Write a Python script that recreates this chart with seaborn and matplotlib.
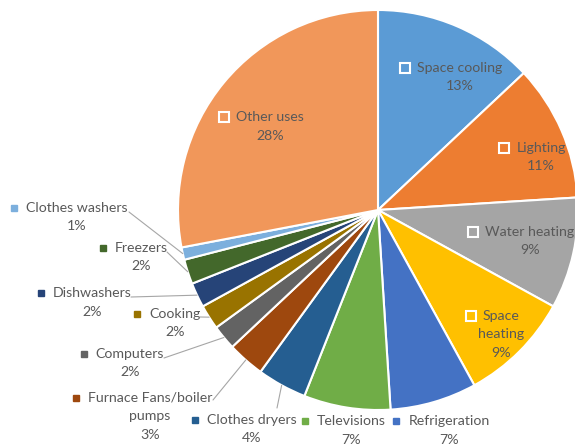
import matplotlib
matplotlib.use("Agg")
import numpy as np
import matplotlib.pyplot as plt
import matplotlib.transforms as mtransforms
from matplotlib.lines import Line2D
import seaborn as sns

# data, clockwise from 12 o'clock
labels = ["Space cooling", "Lighting", "Water heating", "Space\nheating", "Refrigeration",
          "Televisions", "Clothes dryers", "Furnace Fans/boiler\npumps", "Computers",
          "Cooking", "Dishwashers", "Freezers", "Clothes washers", "Other uses"]
shares = [13, 11, 9, 9, 7, 7, 4, 3, 2, 2, 2, 2, 1, 28]
colors = ["#5B9BD5", "#ED7D31", "#A5A5A5", "#FFC000", "#4472C4", "#70AD47", "#255E91",
          "#9E480E", "#636363", "#997300", "#264478", "#43682B", "#7CAFDD", "#F1975A"]
inside = ["Space cooling", "Lighting", "Water heating", "Space\nheating", "Other uses"]

# label layout in image pixels (centre of first text line), leader line starts
label_pos = {
    "Space cooling": (460, 68), "Lighting": (541, 148), "Water heating": (530, 232),
    "Space\nheating": (501, 316), "Refrigeration": (449, 421), "Televisions": (351, 421),
    "Clothes dryers": (252, 420), "Furnace Fans/boiler\npumps": (150, 398),
    "Computers": (130, 354), "Cooking": (175, 314), "Dishwashers": (92, 293),
    "Freezers": (141, 248), "Clothes washers": (77, 208), "Other uses": (270, 117),
}
leader_from = {
    "Clothes washers": (129, 212), "Freezers": (167, 252), "Dishwashers": (131, 297),
    "Cooking": (200, 317), "Computers": (164, 358), "Furnace Fans/boiler\npumps": (213, 400),
    "Clothes dryers": (277, 408),
}

W, H = 575, 446
text_color = "#595959"

sns.set_theme(style="white")
plt.rcParams["font.family"] = ["Lato", "DejaVu Sans"]

fig = plt.figure(figsize=(W / 100, H / 100), dpi=100)
ax = fig.add_axes([(378 - 200) / W, (H - 210 - 200) / H, 400 / W, 400 / H])
wedges, _ = ax.pie(shares, colors=sns.color_palette(colors), startangle=90, counterclock=False,
                   wedgeprops=dict(edgecolor="white", linewidth=1.5))
ax.set_xlim(-1, 1)
ax.set_ylim(-1, 1)

# pixel coords, origin top-left
pix = mtransforms.Affine2D().scale(1 / W, -1 / H).translate(0, 1) + fig.transFigure
to_pix = lambda pt: pix.inverted().transform(ax.transData.transform(pt))

fig.canvas.draw()
renderer = fig.canvas.get_renderer()
line_h = 18.5

for lab, v, c in zip(labels, shares, colors):
    x, y = label_pos[lab]
    lines = lab.split("\n") + [f"{v}%"]
    texts = []
    for i, s in enumerate(lines):
        t = fig.text(x, y + i * line_h, s, transform=pix, ha="center", va="center",
                     fontsize=10.2, color=text_color)
        texts.append(t)
    bb = texts[0].get_window_extent(renderer)
    sx = x - bb.width / 2 - 12
    if lab in inside:
        m = Line2D([sx], [y], transform=pix, marker="s", markersize=6.5,
                   markerfacecolor="none", markeredgecolor="white", markeredgewidth=1.5)
    else:
        m = Line2D([sx], [y], transform=pix, marker="s", markersize=4.5,
                   markerfacecolor=c, markeredgecolor=c, linestyle="none")
    fig.add_artist(m)

for w, lab in zip(wedges, labels):
    if lab not in leader_from:
        continue
    mid = np.deg2rad((w.theta1 + w.theta2) / 2)
    ex, ey = to_pix((np.cos(mid), np.sin(mid)))
    sx, sy = leader_from[lab]
    fig.add_artist(Line2D([sx, ex], [sy, ey], transform=pix, color="#A6A6A6", linewidth=0.8))

fig.savefig("out.png", dpi=100)
